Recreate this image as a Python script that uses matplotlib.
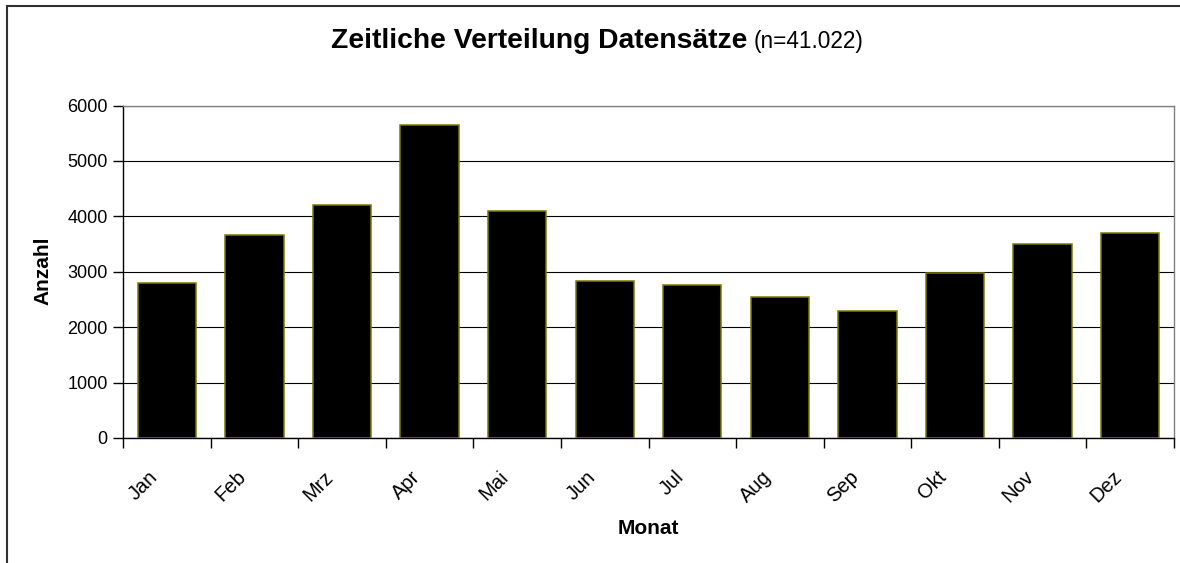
import numpy as np
import matplotlib.pyplot as plt
import matplotlib.patches as mpatches
import matplotlib.transforms as mtransforms
from matplotlib.ticker import FixedLocator

plt.rcParams['font.family'] = ['Liberation Sans', 'DejaVu Sans']

# Werte
monate = ["Jan", "Feb", "Mrz", "Apr", "Mai", "Jun", "Jul", "Aug", "Sep", "Okt", "Nov", "Dez"]
anzahl = [2790, 3655, 4207, 5657, 4099, 2837, 2759, 2549, 2290, 2970, 3499, 3703]
y_ticks = [0, 1000, 2000, 3000, 4000, 5000, 6000]

W, H = 1180, 563
fig = plt.figure(figsize=(W / 100, H / 100), dpi=100)
fig.patch.set_facecolor("white")

# Plotbereich (in Pixeln abgemessen)
left, right, top, bottom = 123, 1174, 105.5, 438
ax = fig.add_axes([left / W, (H - bottom) / H, (right - left) / W, (bottom - top) / H])

x = np.arange(len(monate))
ax.bar(x, anzahl, width=2 / 3, color="black", edgecolor="#7a7a00", linewidth=1.1, zorder=3)

ax.set_xlim(-0.5, len(monate) - 0.5)
ax.set_ylim(0, 6000)
ax.set_yticks(y_ticks)
ax.yaxis.grid(True, color="black", linewidth=0.8, zorder=0)
ax.tick_params(axis="y", direction="out", length=7, width=1, labelsize=13, pad=4)

# Monate als Beschriftung, Striche zwischen den Balken
ax.set_xticks(x)
ax.set_xticklabels(monate, rotation=45, ha="right", va="top")
ax.tick_params(axis="x", which="major", length=0, labelsize=14.5, pad=21)
ax.xaxis.set_minor_locator(FixedLocator(np.arange(-0.5, len(monate), 1.0)))
ax.tick_params(axis="x", which="minor", direction="out", length=7, width=1)
shift = mtransforms.ScaledTranslation(-5 / 100, 0, fig.dpi_scale_trans)
for lab in ax.get_xticklabels():
    lab.set_transform(lab.get_transform() + shift)

for s in ["left", "bottom"]:
    ax.spines[s].set_color("black")
    ax.spines[s].set_linewidth(1)
for s in ["top", "right"]:
    ax.spines[s].set_color("#808080")
    ax.spines[s].set_linewidth(1)

ax.set_ylabel("Anzahl", fontsize=15, fontweight="bold")
ax.yaxis.set_label_coords(43 / W, (H - 271) / H, transform=fig.transFigure)
ax.set_xlabel("Monat", fontsize=15, fontweight="bold")
ax.xaxis.set_label_coords((left + right) / 2 / W, (H - 529) / H, transform=fig.transFigure)
ax.xaxis.label.set_va("center")
ax.yaxis.label.set_va("center")

# Titel: fetter Teil + normaler Teil
fig.text(747 / W, (H - 48) / H, "Zeitliche Verteilung Datensätze", fontsize=20.3,
         fontweight="bold", ha="right", va="baseline")
fig.text(754 / W, (H - 48) / H, "(n=41.022)", fontsize=16.3, ha="left", va="baseline")

# Rahmen des Diagrammbereichs (geht über den Bildrand hinaus)
frame = mpatches.Rectangle((7 / W, -0.2), 1.2, (H - 6) / H + 0.2, transform=fig.transFigure,
                           fill=False, edgecolor="#303030", linewidth=1.5)
fig.patches.append(frame)

fig.savefig("out.png", dpi=100)
